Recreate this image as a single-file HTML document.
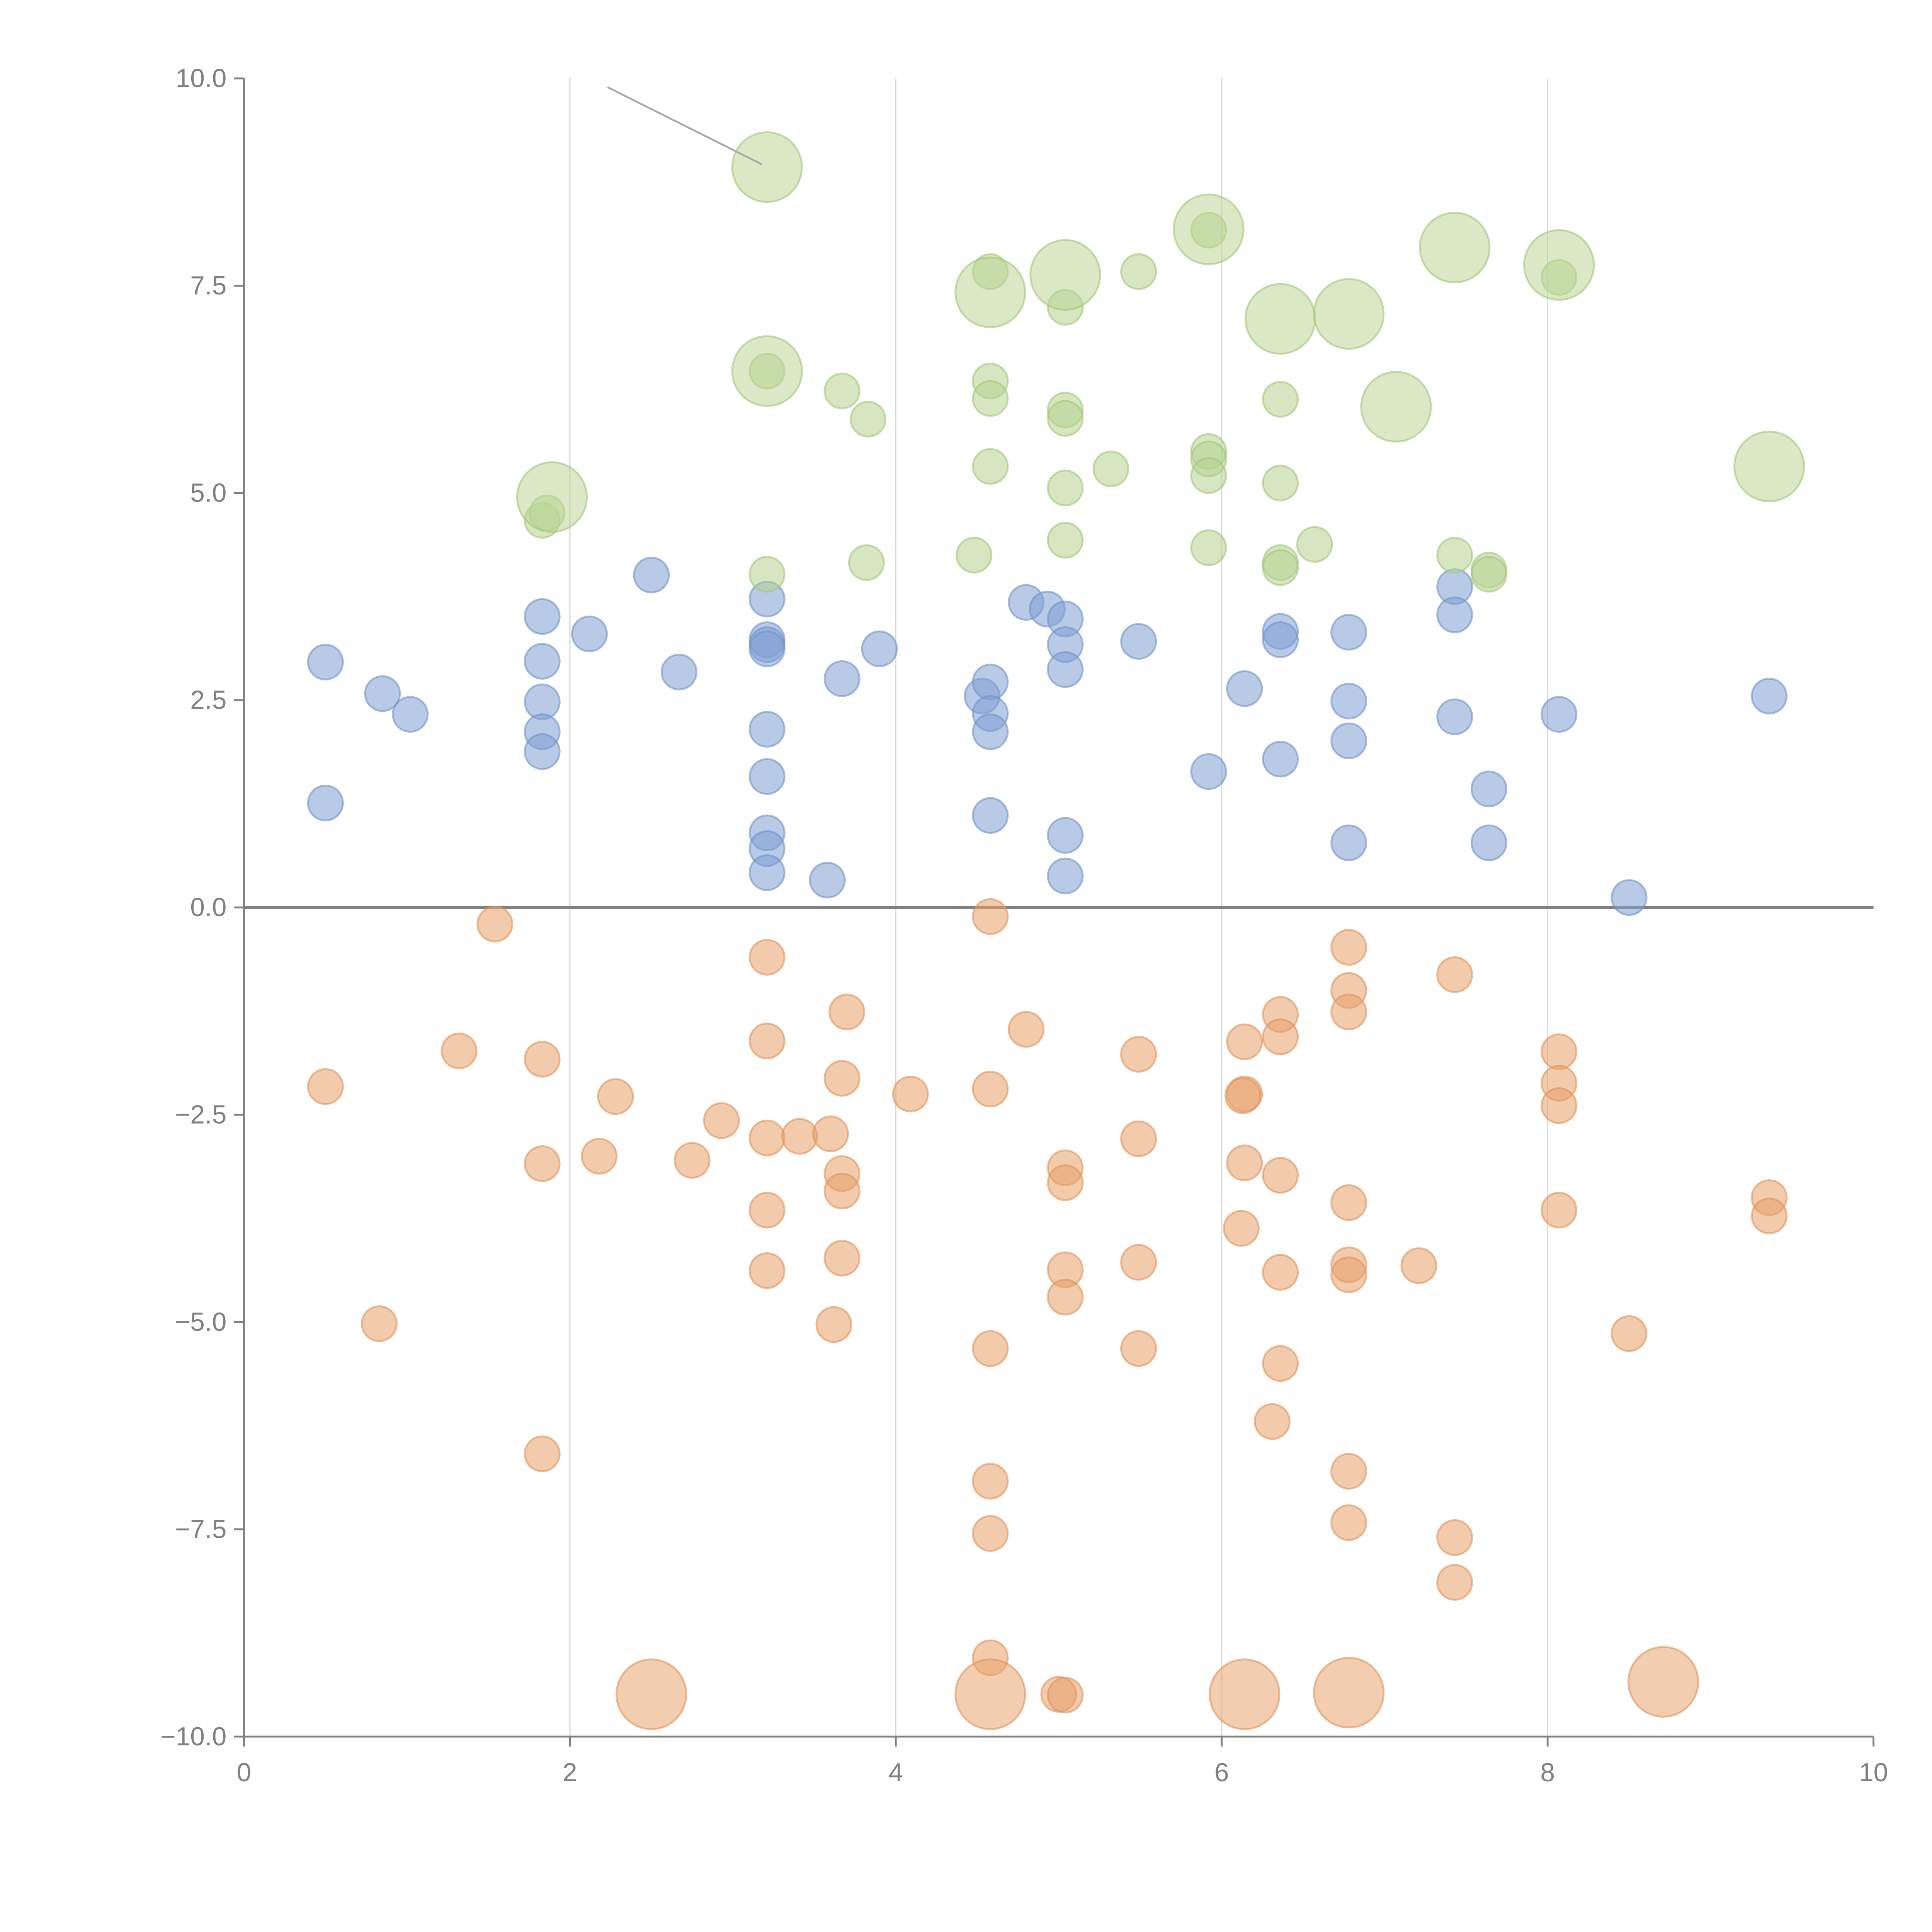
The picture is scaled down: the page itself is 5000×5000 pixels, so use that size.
<!DOCTYPE html>
<html><head><meta charset="utf-8"><style>html,body{margin:0;padding:0;background:#fff}svg{display:block}</style></head>
<body>
<svg id="chart" xmlns="http://www.w3.org/2000/svg" width="5000" height="5000" viewBox="0 0 1552 1552" font-family="Liberation Sans, sans-serif">
<g id="grid"></g>
<g id="axes"></g>
<g id="marks"></g>
</svg>
<script>
const xTicks=[0,2,4,6,8,10];
const yTicks=[-10,-7.5,-5,-2.5,0,2.5,5,7.5,10];
const yTickLabels=["\u221210.0","\u22127.5","\u22125.0","\u22122.5","0.0","2.5","5.0","7.5","10.0"];
const blueX=[0.5,0.5,0.85,1.02,1.83,1.83,1.83,1.83,1.83,2.12,2.5,2.67,3.21,3.21,3.21,3.21,3.21,3.21,3.21,3.21,3.21,3.58,3.67,3.9,4.53,4.58,4.58,4.58,4.58,4.8,4.93,5.04,5.04,5.04,5.04,5.04,5.49,5.92,6.14,6.36,6.36,6.36,6.78,6.78,6.78,6.78,7.43,7.43,7.43,7.64,7.64,8.07,8.5,9.36];
const blueY=[2.96,1.26,2.58,2.33,3.51,2.97,2.48,2.12,1.88,3.3,4.01,2.84,3.72,3.23,3.17,3.12,2.15,1.58,0.9,0.71,0.42,0.33,2.76,3.12,2.55,2.72,2.34,2.12,1.11,3.68,3.6,3.48,3.17,2.87,0.87,0.38,3.21,1.64,2.64,3.33,3.23,1.79,3.32,2.49,2.01,0.78,3.87,3.53,2.3,1.43,0.78,2.33,0.12,2.55];
const greenX=[1.83,1.86,3.21,3.21,3.67,3.83,3.82,4.48,4.58,4.58,4.58,4.58,5.04,5.04,5.04,5.04,5.04,5.32,5.49,5.92,5.92,5.92,5.92,5.92,6.36,6.36,6.36,6.36,6.57,7.43,7.64,7.64,8.07];
const greenY=[4.67,4.76,6.47,4.02,6.23,5.89,4.16,4.25,7.67,6.35,6.14,5.32,7.24,6.0,5.9,5.06,4.43,5.29,7.67,8.17,5.5,5.41,5.21,4.34,6.13,5.12,4.16,4.1,4.38,4.25,4.07,4.02,7.6];
const greenBigX=[1.89,3.21,3.21,4.58,5.04,5.92,6.36,6.78,7.07,7.43,8.07,9.36];
const greenBigY=[4.95,8.93,6.47,7.42,7.63,8.18,7.1,7.16,6.04,7.96,7.75,5.32];
const orangeX=[0.5,0.83,1.32,1.54,1.83,1.83,1.83,2.18,2.28,2.75,2.93,3.21,3.21,3.21,3.21,3.21,3.41,3.6,3.62,3.7,3.67,3.67,3.67,3.67,4.09,4.58,4.58,4.58,4.58,4.58,4.58,4.8,5.04,5.04,5.04,5.04,5.0,5.04,5.49,5.49,5.49,5.49,6.14,6.14,6.13,6.14,6.12,6.31,6.36,6.36,6.36,6.36,6.36,6.78,6.78,6.78,6.78,6.78,6.78,6.78,6.78,7.21,7.43,7.43,7.43,8.07,8.07,8.07,8.07,8.5,9.36,9.36];
const orangeY=[-2.16,-5.02,-1.73,-0.2,-1.83,-3.09,-6.59,-3.0,-2.28,-3.05,-2.57,-0.6,-1.61,-2.78,-3.65,-4.38,-2.76,-2.73,-5.03,-1.26,-2.06,-3.21,-3.42,-4.23,-2.25,-0.11,-2.19,-5.32,-6.92,-7.55,-9.05,-1.47,-3.14,-3.32,-4.37,-4.7,-9.49,-9.5,-1.77,-2.79,-4.28,-5.32,-1.62,-2.25,-2.27,-3.08,-3.87,-6.2,-1.29,-1.56,-3.23,-4.4,-5.5,-0.48,-1.0,-1.26,-3.56,-4.31,-4.43,-6.8,-7.42,-4.32,-0.81,-7.6,-8.14,-1.74,-2.12,-2.39,-3.65,-5.14,-3.5,-3.72];
const orangeBigX=[2.5,4.58,6.14,6.78,8.71];
const orangeBigY=[-9.49,-9.49,-9.49,-9.47,-9.34];

const NS="http://www.w3.org/2000/svg";
const X0=196,X1=1505,Y0=1395,Y1=63;
function sx(v){return X0+(v-0)/(10-0)*(X1-X0);}
function sy(v){return Y0-(v+10)/20*(Y0-Y1);}
function mk(tag,attrs,parent){const e=document.createElementNS(NS,tag);for(const k in attrs)e.setAttribute(k,attrs[k]);parent.appendChild(e);return e;}
const grid=document.getElementById('grid'),axes=document.getElementById('axes'),marks=document.getElementById('marks');
xTicks.forEach(t=>{if(t>0&&t<10){const l=mk('line',{x1:sx(t),x2:sx(t),y1:Y1,y2:Y0,stroke:'#d9d9d9','stroke-width':1},grid);

}});
let a=mk('line',{x1:X0,x2:X0,y1:Y1,y2:Y0,stroke:'#808080','stroke-width':1.5},axes);


a=mk('line',{x1:X0,x2:X1,y1:Y0,y2:Y0,stroke:'#808080','stroke-width':1.5},axes);


a=mk('line',{x1:X0,x2:X1,y1:sy(0),y2:sy(0),stroke:'#808080','stroke-width':2.5},axes);


xTicks.forEach(t=>{mk('line',{x1:sx(t),x2:sx(t),y1:Y0,y2:Y0+8,stroke:'#808080','stroke-width':1.5},axes);
const tx=mk('text',{x:sx(t),y:Y0+36,'text-anchor':'middle','font-size':21,fill:'#808080'},axes);tx.textContent=t;

});
yTicks.forEach((t,i)=>{mk('line',{x1:X0-8,x2:X0,y1:sy(t),y2:sy(t),stroke:'#808080','stroke-width':1.5},axes);
const tx=mk('text',{x:X0-14,y:sy(t)+7,'text-anchor':'end','font-size':21,fill:'#808080'},axes);tx.textContent=yTickLabels[i];

});
function series(xs,ys,r,fill,stroke,name){xs.forEach((x,i)=>{const c=mk('circle',{cx:sx(x),cy:sy(ys[i]),r:r,fill:fill,'fill-opacity':0.55,stroke:stroke,'stroke-opacity':0.6,'stroke-width':1.5},marks);

});}
series(blueX,blueY,14,'#7f9fd3','#6f92c8','blue-point');
series(orangeX,orangeY,14,'#e8a06a','#e0925a','orange-point');
series(greenX,greenY,14,'#b5d18e','#a3c47a','green-point');
series(greenBigX,greenBigY,28,'#bcd596','#a3c47a','green-bubble');
series(orangeBigX,orangeBigY,28,'#eaa46e','#e0925a','orange-bubble');
const ll=mk('line',{x1:488,y1:70,x2:612,y2:132,stroke:'#aaaaaa','stroke-width':1.5},marks);


</script>
</body></html>
